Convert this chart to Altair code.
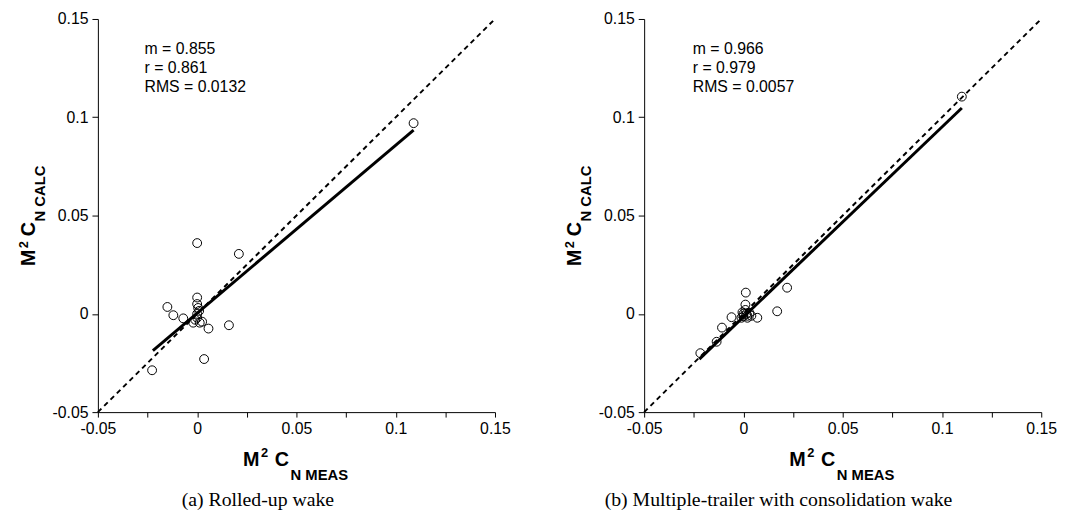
import altair as alt
import pandas as pd

# ---------------- data ----------------
# (a) Rolled-up wake
a_meas = [0.109, 0.0, 0.021, -0.015, -0.012, -0.007, 0.0, 0.0, 0.0005, 0.0,
          -0.002, 0.0013, 0.0, 0.0025, 0.0057, 0.016, 0.0035, -0.0227, 0.001, -0.001]
a_calc = [0.097, 0.036, 0.0305, 0.0035, -0.0007, -0.0023, 0.0083, 0.005, 0.003, 0.0,
          -0.0045, -0.0045, -0.002, -0.004, -0.0075, -0.0058, -0.023, -0.0287, 0.0015, -0.003]
a_fit_x = [-0.0223, 0.109]
a_fit_y = [-0.0187, 0.0935]
a_stats = ["m = 0.855", "r = 0.861", "RMS = 0.0132"]

# (b) Multiple-trailer with consolidation wake
b_meas = [0.110, 0.0012, 0.022, 0.017, 0.001, -0.006, -0.0108, -0.0135, -0.0217, 0.007,
          0.0, 0.002, 0.003, -0.001, 0.004, 0.001, 0.002, -0.0005, 0.0015, 0.0]
b_calc = [0.1105, 0.0108, 0.0133, 0.0013, 0.0047, -0.0017, -0.007, -0.0142, -0.02, -0.002,
          0.0, -0.001, 0.0005, -0.002, -0.001, 0.002, -0.002, 0.0008, 0.0, -0.0012]
b_fit_x = [-0.0222, 0.110]
b_fit_y = [-0.0230, 0.1047]
b_stats = ["m = 0.966", "r = 0.979", "RMS = 0.0057"]

diag = [-0.05, 0.15]
stats_x = [-0.0265, -0.0255]
stats_y = [0.132, 0.1225, 0.113]

major = [-0.05, 0.0, 0.05, 0.1, 0.15]
x_ticks = [-0.05, -0.025, 0.0, 0.025, 0.05, 0.075, 0.1, 0.125, 0.15]
captions = ["(a) Rolled-up wake", "(b) Multiple-trailer with consolidation wake"]

W, H = 402, 398
DOM = [-0.05, 0.15]

x_label_expr = ("indexof([-0.025, 0.025, 0.075, 0.125], datum.value) >= 0 ? '' : "
                "replace(format(datum.value, '~g'), '\u2212', '-')")
y_label_expr = "replace(format(datum.value, '~g'), '\u2212', '-')"

def xenc(field):
    return alt.X(f"{field}:Q", scale=alt.Scale(domain=DOM, nice=False, zero=False),
                 axis=alt.Axis(values=x_ticks, labelExpr=x_label_expr, title=None,
                               tickSize=5, labelPadding=4, labelFlush=False,
                               labelOverlap=False))

def yenc(field):
    return alt.Y(f"{field}:Q", scale=alt.Scale(domain=DOM, nice=False, zero=False),
                 axis=alt.Axis(values=major, labelExpr=y_label_expr, title=None,
                               tickSize=6, labelPadding=4, labelFlush=False,
                               labelOverlap=False))

def txt(s, x, y, size, angle=0, font="Liberation Sans", bold=True, align="left"):
    df = pd.DataFrame({"t": [s]})
    kw = dict(font=font, fontSize=size, align=align, baseline="alphabetic", color="black")
    if bold:
        kw["fontWeight"] = "bold"
    if angle:
        kw["angle"] = angle
    return alt.Chart(df).mark_text(**kw).encode(text="t:N", x=alt.value(x), y=alt.value(y))

def panel(meas, calc, fx, fy, stats, sx, caption, cap_x):
    pts = pd.DataFrame({"meas": meas, "calc": calc})
    dg = pd.DataFrame({"meas": diag, "calc": diag})
    fit = pd.DataFrame({"meas": fx, "calc": fy})
    st = pd.DataFrame({"s": stats, "x": [sx] * 3, "y": stats_y})

    dash = alt.Chart(dg).mark_line(color="black", strokeWidth=2, strokeDash=[5, 4]).encode(
        x=xenc("meas"), y=yenc("calc"))
    solid = alt.Chart(fit).mark_line(color="black", strokeWidth=3).encode(
        x=xenc("meas"), y=yenc("calc"))
    circ = alt.Chart(pts).mark_point(shape="circle", filled=False, size=80,
                                     color="black", strokeWidth=1, opacity=1).encode(
        x=xenc("meas"), y=yenc("calc"))
    stat = alt.Chart(st).mark_text(align="left", baseline="alphabetic", font="Liberation Sans",
                                   fontSize=16, color="black").encode(
        x=xenc("x"), y=yenc("y"), text="s:N")

    layers = [dash, solid, circ, stat,
              # x title: M^2 C_N MEAS
              txt("M", 147, 453, 20), txt("2", 165, 443, 13), txt("C", 179, 453, 20),
              txt("N  MEAS", 195, 467, 15),
              # y title: M^2 C_N CALC (rotated)
              txt("M", -64, 250, 20, angle=270), txt("2", -71, 232, 13, angle=270),
              txt("C", -64, 220, 20, angle=270), txt("N  CALC", -54, 205, 15, angle=270),
              txt(caption, cap_x, 493, 20, font="Liberation Serif", bold=False, align="center")]
    return alt.layer(*layers).properties(width=W, height=H)

left = panel(a_meas, a_calc, a_fit_x, a_fit_y, a_stats, stats_x[0], captions[0], 162)
right = panel(b_meas, b_calc, b_fit_x, b_fit_y, b_stats, stats_x[1], captions[1], 136)

chart = alt.hconcat(left, right, spacing=151, bounds="flush").properties(
    padding={"left": 10, "top": 0, "right": 5, "bottom": 0}
).configure_view(stroke=None).configure_axis(
    grid=False, domainColor="black", domainWidth=1, tickColor="black", tickWidth=1,
    labelColor="black", labelFont="Liberation Sans", labelFontSize=16
)

chart.save("out.html", embed_options={"renderer": "svg", "actions": False})
